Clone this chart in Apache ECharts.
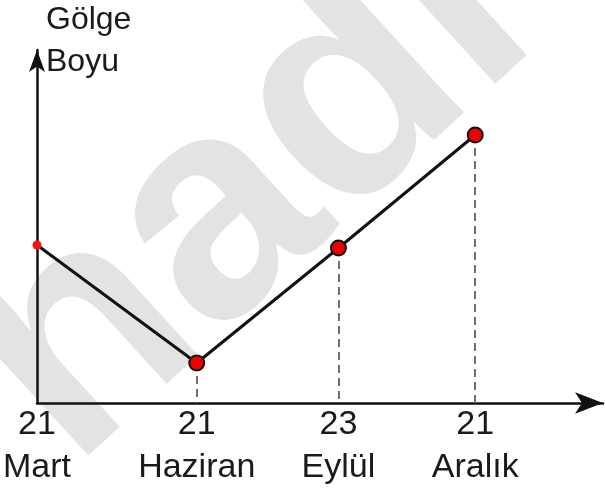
<!DOCTYPE html>
<html><head><meta charset="utf-8">
<script src="https://cdn.jsdelivr.net/npm/echarts@6/dist/echarts.min.js"></script>
<style>html,body{margin:0;padding:0;background:#fff}#c{width:605px;height:491px}</style>
</head><body><div id="c"></div>
<script>
// data (x in horizontal position units, y = shadow length, arbitrary units)
const days = ['21', '21', '23', '21'];
const months = ['Mart', 'Haziran', 'Eylül', 'Aralık'];
const xPos = [0, 160, 302, 439];
const shadow = [158, 40, 155, 268];
const xMax = 567;
const yMax = 353;

const chart = echarts.init(document.getElementById('c'));
const pts = xPos.map((x, i) => [x, shadow[i]]);
const labelMap = {};
xPos.forEach((x, i) => labelMap[x] = days[i] + '\n' + months[i]);

chart.setOption({
  animation: false,
  grid: { left: 36, right: 2, top: 50, bottom: 88, containLabel: false },
  graphic: [
    { type: 'text', z: -10, rotation: 0.74, x: 250, y: 192,
      style: { text: 'hadi', font: 'bold 310px "Liberation Sans", Arial', fill: '#e3e3e3', align: 'center', verticalAlign: 'middle' } },
    { type: 'text', left: 46, top: -1, style: { text: 'Gölge\nBoyu', font: '32px "Liberation Sans", Arial', fill: '#1a1a1a', lineHeight: 42 } }
  ],
  xAxis: {
    type: 'value', min: 0, max: xMax,
    splitLine: { show: false },
    axisTick: { show: false },
    axisLine: { show: true, lineStyle: { color: '#111', width: 2.5 }, symbol: ['none', 'arrow'], symbolSize: [16, 28] },
    axisLabel: {
      customValues: xPos,
      formatter: v => labelMap[v] || '',
      color: '#1a1a1a', fontSize: 34, lineHeight: 43, margin: 0,
      fontFamily: '"Liberation Sans", Arial'
    }
  },
  yAxis: {
    type: 'value', min: 0, max: yMax,
    splitLine: { show: false },
    axisTick: { show: false },
    axisLabel: { show: false },
    axisLine: { show: true, onZero: false, lineStyle: { color: '#111', width: 2.5 }, symbol: ['none', 'arrow'], symbolSize: [12, 22] }
  },
  series: [{
    type: 'line',
    data: pts.map((p, i) => ({
      value: p,
      symbolSize: i === 0 ? 9 : 15,
      itemStyle: i === 0 ? { color: '#ff1010', borderWidth: 0 } : { color: '#ee0000', borderColor: '#111', borderWidth: 2 }
    })),
    symbol: 'circle',
    lineStyle: { color: '#111', width: 3 },
    z: 5,
    markLine: {
      silent: true, symbol: 'none', label: { show: false },
      lineStyle: { color: '#707070', type: [8, 5], width: 2 },
      data: pts.slice(1).map(p => [{ coord: [p[0], p[1]] }, { coord: [p[0], 0] }])
    }
  }]
});
</script></body></html>
